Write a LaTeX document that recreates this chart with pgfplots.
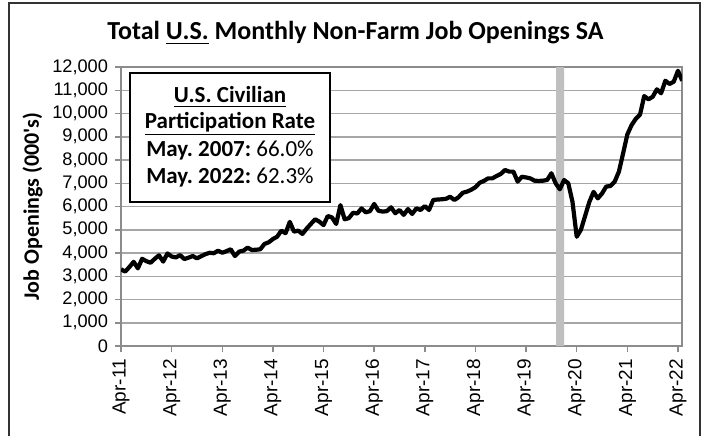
\documentclass[border=0pt]{standalone}
\usepackage{pgfplots}
\usepackage{pgfplotstable}
\pgfplotsset{compat=1.18}
\usepackage{fontspec}
\setmainfont{Liberation Sans}
\newfontfamily\calibri{Carlito}
\frenchspacing

% month index (0 = Apr-11), job openings in thousands
\pgfplotstableread{
m v
0 3300
1 3200
2 3400
3 3620
4 3340
5 3750
6 3650
7 3580
8 3750
9 3900
10 3630
11 3980
12 3850
13 3810
14 3910
15 3740
16 3800
17 3870
18 3770
19 3860
20 3950
21 4010
22 3990
23 4100
24 4010
25 4080
26 4160
27 3870
28 4060
29 4100
30 4230
31 4130
32 4140
33 4160
34 4390
35 4460
36 4600
37 4700
38 4960
39 4850
40 5340
41 4920
42 4960
43 4820
44 5050
45 5250
46 5450
47 5350
48 5200
49 5590
50 5530
51 5250
52 6060
53 5450
54 5500
55 5730
56 5700
57 5920
58 5750
59 5800
60 6110
61 5820
62 5780
63 5800
64 5965
65 5710
66 5850
67 5640
68 5890
69 5680
70 5920
71 5850
72 6020
73 5850
74 6280
75 6300
76 6310
77 6330
78 6420
79 6280
80 6400
81 6590
82 6640
83 6720
84 6830
85 7020
86 7100
87 7210
88 7210
89 7310
90 7400
91 7570
92 7500
93 7500
94 7070
95 7280
96 7250
97 7210
98 7110
99 7100
100 7110
101 7140
102 7430
103 7000
104 6740
105 7140
106 7000
107 6200
108 4700
109 5000
110 5600
111 6200
112 6630
113 6350
114 6560
115 6860
116 6880
117 7070
118 7500
119 8290
120 9100
121 9500
122 9770
123 9950
124 10750
125 10610
126 10720
127 11040
128 10870
129 11410
130 11270
131 11370
132 11840
133 11410
}\jobs

\begin{document}
\begin{tikzpicture}
\useasboundingbox (0,0) rectangle (353pt,217.5pt);
\begin{axis}[
  at={(60.5pt,44.5pt)}, anchor=south west,
  scale only axis, width=280.6pt, height=139.5pt,
  xmin=0, xmax=133, ymin=0, ymax=12000,
  xtick={0,12,...,132},
  xticklabels={Apr-11,Apr-12,Apr-13,Apr-14,Apr-15,Apr-16,Apr-17,Apr-18,Apr-19,Apr-20,Apr-21,Apr-22},
  ytick={0,1000,...,12000},
  scaled y ticks=false,
  /pgf/number format/.cd, 1000 sep={,}, assume math mode=true, /pgfplots/.cd,
  ymajorgrids, grid style={gray!70, line width=0.75pt},
  axis line style={gray!90, line width=0.75pt},
  tick style={gray!90, line width=0.75pt},
  tick align=outside, tick pos=left, major tick length=3pt,
  yticklabel style={font=\fontsize{9.1}{11}\selectfont},
  xticklabel style={font=\fontsize{9.5}{11}\selectfont, rotate=90, anchor=east},
  ylabel={Job Openings (000's)},
  ylabel style={font=\calibri\bfseries\fontsize{11}{13}\selectfont, yshift=-2pt},
]
\addplot[fill=gray!50, draw=none] coordinates {(103.1,0) (103.1,12000) (105,12000) (105,0)} \closedcycle;
\addplot[black, line width=2.1pt, line join=round] table[x=m, y=v] {\jobs};
\end{axis}
\begin{scope}[x=0.5pt, y=-0.5pt, shift={(0,217.5pt)}]
  \draw[black!80, line width=1pt] (9,440) -- (9,3) -- (700,3) -- (700,440);
  \node[font=\calibri\bfseries\fontsize{13}{15}\selectfont] at (355.5,33) {Total \underline{U.S.} Monthly Non-Farm Job Openings SA};
  \draw[fill=white, line width=0.75pt] (130,73) rectangle (330,202);
  \begin{scope}[every node/.style={font=\calibri\fontsize{11.5}{13}\selectfont}]
    \node at (230,97) {\bfseries\underline{U.S. Civilian}};
    \node at (230,124) {\bfseries\underline{Participation Rate}};
    \node at (230,150) {\textbf{May. 2007:} 66.0\%};
    \node at (230,177) {\textbf{May. 2022:} 62.3\%};
  \end{scope}
\end{scope}
\end{tikzpicture}
\end{document}
